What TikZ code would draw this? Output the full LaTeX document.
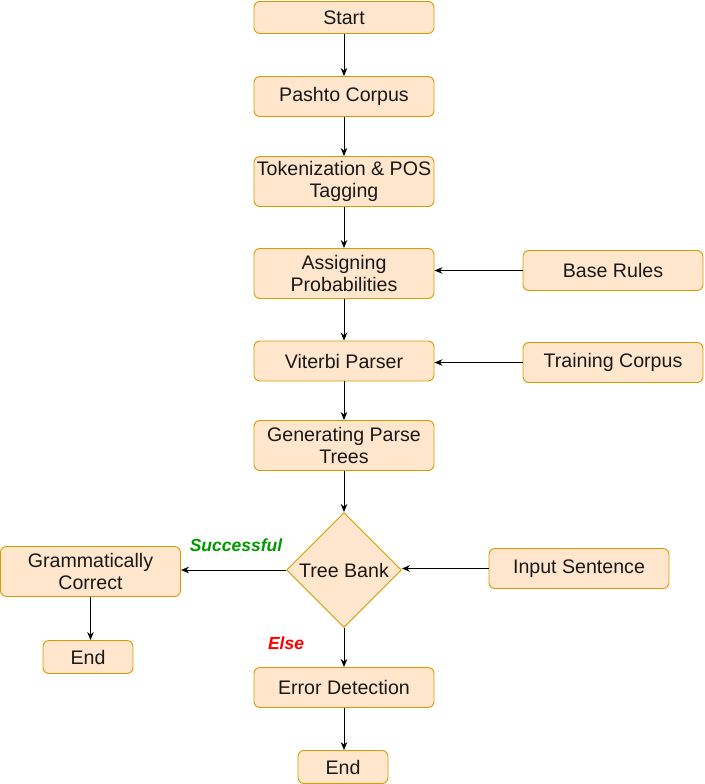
\documentclass[tikz,border=0pt]{standalone}
\usepackage{fontspec}
\setmainfont{Liberation Sans}
\usetikzlibrary{shapes.geometric,arrows.meta}
\definecolor{boxfill}{HTML}{FFE6CC}
\definecolor{boxdraw}{HTML}{D79B00}
\definecolor{okgreen}{HTML}{009900}
\definecolor{elsered}{HTML}{FF0000}
\begin{document}
\begin{tikzpicture}[x=1pt,y=-1pt,
  box/.style={draw=boxdraw,fill=boxfill,rounded corners=6pt,line width=0.9pt,
    minimum width=180pt,minimum height=40pt,inner sep=0pt,align=center,
    font=\fontsize{19.6}{22.5}\selectfont,text=black!90},
  decision/.style={draw=boxdraw,fill=boxfill,diamond,line width=0.9pt,
    minimum width=115pt,minimum height=115pt,inner sep=0pt,
    font=\fontsize{19.6}{22.5}\selectfont,text=black!90},
  conn/.style={-{Stealth[length=8pt,width=6.5pt]},line width=0.9pt,black},
  lbl/.style={font=\fontsize{17.5}{20}\selectfont\bfseries\itshape}]
\useasboundingbox (0,0) rectangle (704,784);
\node[box,minimum height=32pt] (start) at (344,17.5) {Start};
\node[box] (pashto) at (344,96.5) {Pashto Corpus};
\node[box,minimum height=50pt] (token) at (344,181.5) {Tokenization \& POS\\Tagging};
\node[box,minimum height=50pt] (assign) at (344,273.5) {Assigning\\Probabilities};
\node[box] (viterbi) at (344,361) {Viterbi Parser};
\node[box,minimum height=50pt] (gen) at (344,445.5) {Generating Parse\\Trees};
\node[decision] (tree) at (344,570) {Tree Bank};
\node[box,minimum height=50pt] (gram) at (90.5,571.5) {Grammatically\\Correct};
\node[box,minimum width=90pt,minimum height=33pt] (endl) at (88,657) {End};
\node[box] (err) at (344,687.5) {Error Detection};
\node[box,minimum width=90pt,minimum height=33pt] (endb) at (343,767) {End};
\node[box] (base) at (613,270.5) {Base Rules};
\node[box] (train) at (613,362.5) {Training Corpus};
\node[box] (input) at (579,568.5) {Input Sentence};
\node[lbl,text=okgreen] (succ) at (236,545) {Successful};
\node[lbl,text=elsered] (else) at (286,643) {Else};
\draw[conn] (start) -- (pashto);
\draw[conn] (pashto) -- (token);
\draw[conn] (token) -- (assign);
\draw[conn] (assign) -- (viterbi);
\draw[conn] (viterbi) -- (gen);
\draw[conn] (gen.south) -- (tree.north);
\draw[conn] (tree.south) -- (tree.south |- err.north);
\draw[conn] (err.south) -- (err.south |- endb.north);
\draw[conn] (tree.west) -- (tree.west -| gram.east);
\draw[conn] (gram.south) -- (gram.south |- endl.north);
\draw[conn] (base.west) -- (base.west -| assign.east);
\draw[conn] (train.west) -- (train.west -| viterbi.east);
\draw[conn] (input.west) -- (input.west -| tree.east);
\end{tikzpicture}
\end{document}
